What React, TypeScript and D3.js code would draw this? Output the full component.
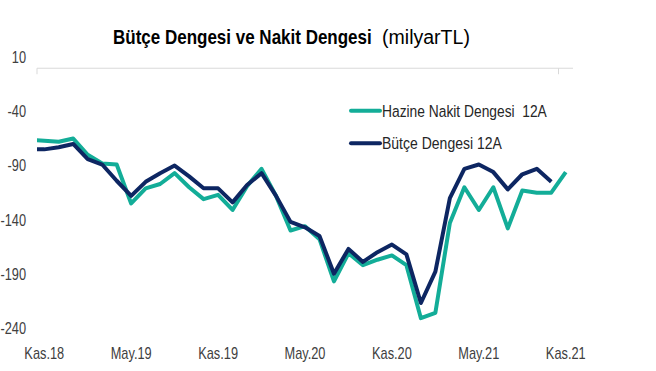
import React, { useEffect, useRef } from "react";
import * as d3 from "d3";

// months, Eki.18 is only partly visible at the left edge (clipped)
const categories = [
  "Eki.18", "Kas.18", "Ara.18", "Oca.19", "Şub.19", "Mar.19", "Nis.19", "May.19",
  "Haz.19", "Tem.19", "Ağu.19", "Eyl.19", "Eki.19", "Kas.19", "Ara.19", "Oca.20",
  "Şub.20", "Mar.20", "Nis.20", "May.20", "Haz.20", "Tem.20", "Ağu.20", "Eyl.20",
  "Eki.20", "Kas.20", "Ara.20", "Oca.21", "Şub.21", "Mar.21", "Nis.21", "May.21",
  "Haz.21", "Tem.21", "Ağu.21", "Eyl.21", "Eki.21", "Kas.21",
];

const hazineNakit = [
  -66, -67, -68, -65, -80, -88, -89, -125, -111, -107, -97, -110, -121, -117, -131,
  -109, -93, -118, -150, -146, -158, -197, -171, -182, -177, -173, -182, -231, -226,
  -143, -110, -131, -110, -148, -113, -115, -115, -96,
];

const butceDengesi = [
  -75, -75, -73, -70, -84, -89, -104, -118, -105, -97, -90, -100, -111, -111, -124,
  -108, -97, -118, -142, -147, -155, -190, -167, -179, -170, -163, -172, -217, -188,
  -120, -93, -89, -96, -112, -98, -93, -105,
];

const xLabels = ["Kas.18", "May.19", "Kas.19", "May.20", "Kas.20", "May.21", "Kas.21"];
const yTicks = [10, -40, -90, -140, -190, -240];

const legendItems = ["Hazine Nakit Dengesi  12A", "Bütçe Dengesi 12A"];
const colors = ["#13AD98", "#0D2662"];

const FONT = "'Liberation Sans', Arial, sans-serif";
const SX = 0.8; // the original text is narrow

// squeeze a text horizontally so it ends up exactly w pixels wide
const fitWidth = (sel: any, x: number, y: number, w: number) => {
  const len = (sel.node() as SVGTextElement).getComputedTextLength();
  sel.attr("transform", `translate(${x},${y}) scale(${w / len},1)`);
};

const App = () => {
  const ref = useRef<SVGSVGElement>(null);

  useEffect(() => {
    const width = 656;
    const height = 371;
    const svg = d3.select(ref.current).attr("viewBox", [0, 0, width, height]);
    svg.selectAll("*").remove();

    const x = d3.scaleLinear().domain([1, 38]).range([37, 573]);
    const y = d3.scaleLinear().domain([-240, 10]).range([327.9, 57.4]);
    const xi = (i: number) => x(i + 0.5);

    svg
      .append("defs")
      .append("clipPath")
      .attr("id", "plot")
      .append("rect")
      .attr("x", x(1))
      .attr("y", 0)
      .attr("width", x(38) - x(1))
      .attr("height", height);

    // category axis at zero
    const axis = svg.append("g").attr("stroke", "#D9D9D9").attr("stroke-width", 1);
    axis
      .append("line")
      .attr("x1", x(1))
      .attr("x2", x(38))
      .attr("y1", y(0))
      .attr("y2", y(0));
    axis
      .selectAll("line.tick")
      .data([1, 37])
      .join("line")
      .attr("class", "tick")
      .attr("x1", (d) => x(d))
      .attr("x2", (d) => x(d))
      .attr("y1", y(0))
      .attr("y2", y(0) + 6);

    // y labels
    svg
      .append("g")
      .selectAll("text")
      .data(yTicks)
      .join("text")
      .attr("transform", (d) => `translate(26,${y(d) + 5.8}) scale(${SX},1)`)
      .attr("text-anchor", "end")
      .attr("font-family", FONT)
      .attr("font-size", 16)
      .attr("fill", "#404040")
      .text((d) => d);

    // x labels
    svg
      .append("g")
      .selectAll("text")
      .data(xLabels)
      .join("text")
      .attr(
        "transform",
        (d) => `translate(${xi(categories.indexOf(d))},${359}) scale(${SX},1)`
      )
      .attr("text-anchor", "middle")
      .attr("font-family", FONT)
      .attr("font-size", 16)
      .attr("fill", "#404040")
      .text((d) => d);

    const line = d3
      .line<number>()
      .x((_, i) => xi(i))
      .y((d) => y(d));

    const lines = svg.append("g").attr("clip-path", "url(#plot)");
    [hazineNakit, butceDengesi].forEach((series, k) => {
      lines
        .append("path")
        .attr("d", line(series))
        .attr("fill", "none")
        .attr("stroke", colors[k])
        .attr("stroke-width", 4)
        .attr("stroke-linejoin", "round");
    });

    // legend
    const legend = svg.append("g");
    const legendWidths = [165, 120];
    legendItems.forEach((name, k) => {
      const ly = 110.7 + k * 32.6;
      legend
        .append("line")
        .attr("x1", 351)
        .attr("x2", 380)
        .attr("y1", ly)
        .attr("y2", ly)
        .attr("stroke", colors[k])
        .attr("stroke-width", 4)
        .attr("stroke-linecap", "round");
      const t = legend
        .append("text")
        .attr("font-family", FONT)
        .attr("font-size", 17)
        .attr("fill", "#262626")
        .style("white-space", "pre")
        .text(name);
      fitWidth(t, 382, ly + 6, legendWidths[k]);
    });

    // title
    const t1 = svg
      .append("text")
      .attr("font-family", FONT)
      .attr("font-size", 20)
      .attr("font-weight", "bold")
      .attr("fill", "#000")
      .text("Bütçe Dengesi ve Nakit Dengesi");
    fitWidth(t1, 113, 44, 259);
    const t2 = svg
      .append("text")
      .attr("font-family", FONT)
      .attr("font-size", 20)
      .attr("fill", "#000")
      .text("(milyarTL)");
    fitWidth(t2, 382, 44, 88);
  }, []);

  return (
    <div style={{ position: "fixed", left: 0, top: 0, background: "#fff" }}>
      <svg ref={ref} width={656} height={371} style={{ display: "block" }}></svg>
    </div>
  );
};

export default App;
